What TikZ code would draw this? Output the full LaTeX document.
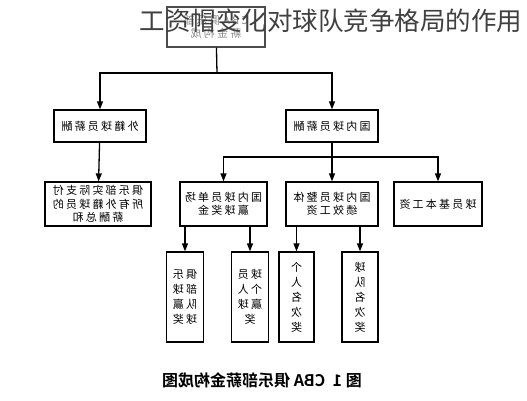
\documentclass[tikz,border=0pt]{standalone}
\usepackage{fontspec}
\setmainfont{Noto Sans CJK SC}
\newfontfamily\boxfont[LetterSpace=20]{Noto Sans CJK SC}
\newfontfamily\capfont{Noto Sans CJK SC Bold}
\usepackage{tikz}
\usetikzlibrary{shapes,arrows.meta,positioning}
\usepackage{xcolor}
\tikzset{
mirr/.style={xscale=-1},
paybox/.style={rectangle,draw=black,line width=1.3pt,fill=white,mirr,
  minimum width=92pt,minimum height=32pt,align=center,inner sep=1pt,
  font=\boxfont\fontsize{11}{13.5}\selectfont},
subbox/.style={paybox,minimum height=44pt},
leafbox/.style={paybox,minimum width=37pt,minimum height=90pt,
  font=\boxfont\fontsize{11}{15}\selectfont},
flowline/.style={line width=1.3pt},
flowarr/.style={line width=1.3pt,-{Triangle[length=8pt,width=6pt]}}
}
\begin{document}
\begin{tikzpicture}[x=1pt,y=-1pt]
\useasboundingbox (0,0) rectangle (527,400);
\fill[white] (0,0) rectangle (527,400);
\node[paybox,draw=black!70,minimum width=98pt,minimum height=40pt,text=black!45] (top) at (216,27) {CBA俱乐部\\薪金构成};
\node[paybox] (forn) at (100,126) {外籍球员薪酬};
\node[paybox] (dom) at (332,126) {国内球员薪酬};
\node[subbox,minimum width=106pt] (fsum) at (98,204) {俱乐部实际支付\\所有外籍球员的\\薪酬总和};
\node[subbox,minimum width=87pt] (win) at (223.5,204) {国内球员单场\\赢球奖金};
\node[subbox] (perf) at (332,204) {国内球员整体\\绩效工资};
\node[subbox,minimum width=88pt] (base) at (438,204) {球员基本工资};
\node[leafbox] (clubw) at (185,297) {俱乐\\部球\\队赢\\球奖};
\node[leafbox] (plyw) at (250,297) {球员\\个人\\赢球\\奖};
\node[leafbox,minimum width=35pt] (indr) at (296.5,297) {个\\人\\名\\次\\奖};
\node[leafbox,minimum width=36pt] (teamr) at (360,297) {球\\队\\名\\次\\奖};

\coordinate (j1) at (217,73);
\coordinate (j2) at (332,157);
\draw[flowline] (top) -- (j1);
\draw[flowarr] (j1) -| (forn);
\draw[flowarr] (j1) -| (dom);
\draw[flowarr] (forn) -- (fsum);
\draw[flowline] (dom) -- (j2);
\draw[flowarr] (j2) -| (win);
\draw[flowarr] (j2) -- (perf);
\draw[flowarr] (j2) -| (base);
\draw[flowarr] (win.south -| clubw) -- (clubw);
\draw[flowarr] (win.south -| plyw) -- (plyw);
\draw[flowarr] (perf.south -| indr) -- (indr);
\draw[flowarr] (perf.south -| teamr) -- (teamr);

\node[mirr,font=\capfont\fontsize{16}{18}\selectfont] (cap) at (262,380) {图\ 1\ \ CBA\ 俱乐部薪金构成图};
\node[font=\fontsize{25.5}{28}\selectfont,text=black!75,inner sep=0pt] (title) at (331,21) {工资帽变化对球队竞争格局的作用};
\end{tikzpicture}
\end{document}
